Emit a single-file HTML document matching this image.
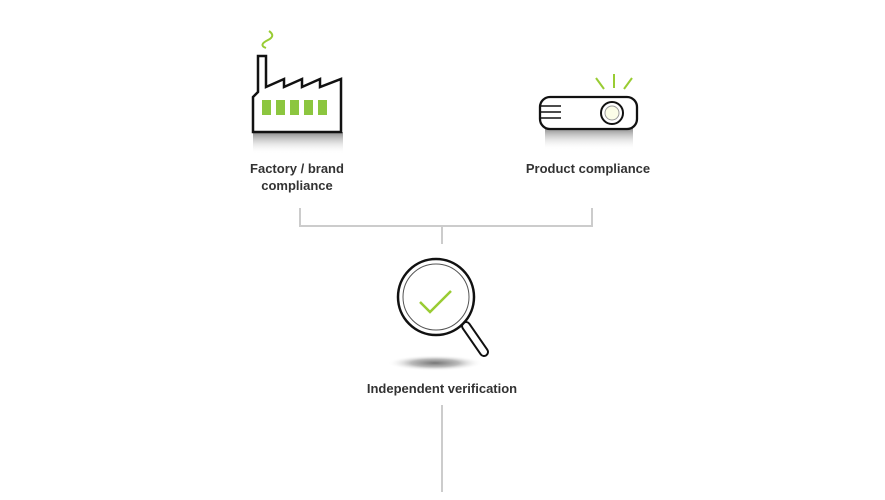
<!DOCTYPE html>
<html><head><style>
body{margin:0;background:#fff;}
svg{display:block}
text{font-family:"Liberation Sans",sans-serif;font-weight:bold;font-size:13px;fill:#333;text-anchor:middle}
</style></head><body>
<svg width="885" height="500" viewBox="0 0 885 500">
<defs>
<linearGradient id="sh" x1="0" y1="0" x2="0" y2="1"><stop offset="0" stop-color="#888"/><stop offset="1" stop-color="#fff" stop-opacity="0"/></linearGradient>
<radialGradient id="es"><stop offset="0" stop-color="#777"/><stop offset="0.5" stop-color="#bbb"/><stop offset="1" stop-color="#fff" stop-opacity="0"/></radialGradient>
</defs>
<!-- factory -->
<rect x="253" y="132" width="90" height="22" fill="url(#sh)"/>
<path d="M266 48 q-8 -3 2 -8 q8 -4 1 -9" fill="none" stroke="#9c3" stroke-width="2"/>
<path d="M253 132 V97 L258 92 V56 H266 V87 L284 79 V87 L302 79 V87 L320 79 V87 L341 79 V132 Z" fill="#fff" stroke="#111" stroke-width="2.5" stroke-linejoin="miter"/>
<g fill="#8cc63f"><rect x="262" y="100" width="9" height="15"/><rect x="276" y="100" width="9" height="15"/><rect x="290" y="100" width="9" height="15"/><rect x="304" y="100" width="9" height="15"/><rect x="318" y="100" width="9" height="15"/></g>
<text x="297" y="173">Factory / brand</text>
<text x="297" y="190">compliance</text>
<!-- projector -->
<rect x="545" y="128" width="88" height="22" fill="url(#sh)"/>
<g stroke="#9c3" stroke-width="2"><line x1="596" y1="78" x2="604" y2="89"/><line x1="614" y1="74" x2="614" y2="88"/><line x1="632" y1="78" x2="624" y2="89"/></g>
<rect x="540" y="97" width="97" height="32" rx="10" fill="#fff" stroke="#111" stroke-width="2.3"/>
<g stroke="#111" stroke-width="1.5"><line x1="541" y1="106" x2="561" y2="106"/><line x1="541" y1="112" x2="561" y2="112"/><line x1="541" y1="118" x2="561" y2="118"/></g>
<circle cx="612" cy="113" r="11" fill="#fff" stroke="#111" stroke-width="2"/>
<circle cx="612" cy="113" r="7" fill="#fbfde8" stroke="#999" stroke-width="1"/>
<text x="588" y="173">Product compliance</text>
<!-- connectors -->
<g stroke="#ccc" stroke-width="2" fill="none">
<path d="M300 208 V226 H592 V208"/><line x1="442" y1="226" x2="442" y2="244"/><line x1="442" y1="405" x2="442" y2="492"/>
</g>
<!-- magnifier -->
<ellipse cx="435" cy="363" rx="48" ry="8" fill="url(#es)"/>
<path d="M466 326 L484 352" stroke="#111" stroke-width="10" stroke-linecap="round"/>
<path d="M466 326 L484 352" stroke="#fff" stroke-width="6" stroke-linecap="round"/>
<circle cx="436" cy="297" r="38" fill="#fff" stroke="#111" stroke-width="2.5"/>
<circle cx="436" cy="297" r="33" fill="none" stroke="#555" stroke-width="1"/>
<path d="M420 302 L430 312 L451 291" fill="none" stroke="#9c3" stroke-width="2.5"/>
<text x="442" y="393">Independent verification</text>
</svg>
</body></html>
